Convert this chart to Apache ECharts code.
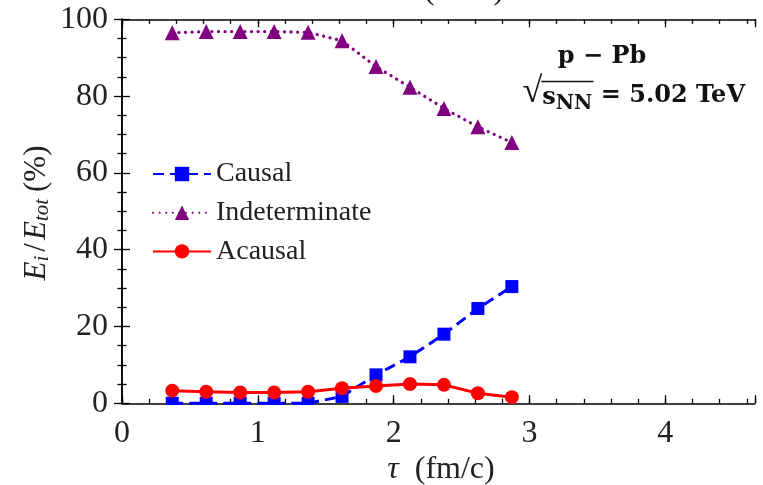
<!DOCTYPE html>
<html>
<head>
<meta charset="utf-8">
<script src="https://cdn.jsdelivr.net/npm/echarts@6/dist/echarts.min.js"></script>
<style>html,body{margin:0;padding:0;background:#fff;}#c{width:763px;height:485px;}</style>
</head>
<body>
<div id="c"></div>
<script>
const tau = [0.37, 0.62, 0.87, 1.12, 1.37, 1.62, 1.87, 2.12, 2.37, 2.62, 2.87];
const causal = [0, 0, 0, 0, 0, 1.8, 7.4, 12.1, 18.0, 24.7, 30.4];
const indeterminate = [96.5, 96.8, 96.8, 96.8, 96.6, 94.4, 87.7, 82.3, 76.8, 72.0, 67.9];
const acausal = [3.3, 3.0, 2.8, 2.8, 3.0, 3.9, 4.5, 5.0, 4.8, 2.6, 1.6];
const seriesNames = ['Causal', 'Indeterminate', 'Acausal'];
const xTicks = [0, 1, 2, 3, 4];
const yTicks = [0, 20, 40, 60, 80, 100];

const FONT = 'Liberation Serif';
const BFONT = 'DejaVu Serif';
const pair = (xs, ys) => xs.map((x, i) => [x, ys[i]]);
const chart = echarts.init(document.getElementById('c'));

const mctx = document.createElement('canvas').getContext('2d');
function tw(text, font) { mctx.font = font; return mctx.measureText(text).width; }

function xAx(pos, major, labels) {
  return {
    type: 'value', position: pos, min: 0, max: 4.66, interval: major ? 1 : 0.2,
    axisLine: {show: major, lineStyle: {color: '#000', width: 1.5}},
    axisTick: {show: true, inside: true, length: major ? 8 : 4.5, lineStyle: {color: '#000', width: 1.3}},
    axisLabel: {show: labels, margin: 14, fontFamily: FONT, fontSize: 32, color: '#222',
      formatter: v => (xTicks.indexOf(v) >= 0 ? String(v) : '')},
    splitLine: {show: false}
  };
}
function yAx(pos, labels) {
  return {
    type: 'value', position: pos, min: 0, max: 100, interval: 20,
    axisLine: {show: true, lineStyle: {color: '#000', width: 1.5}},
    axisTick: {show: true, inside: true, length: 8, lineStyle: {color: '#000', width: 1.3}},
    minorTick: {show: true, splitNumber: 4, length: 4.5, lineStyle: {color: '#000', width: 1.3}},
    axisLabel: {show: labels, margin: 14, fontFamily: FONT, fontSize: 32, color: '#222',
      formatter: v => (yTicks.indexOf(v) >= 0 ? String(v) : '')},
    splitLine: {show: false}
  };
}

// annotation line 2 built from pieces, right-aligned at x=745 (top-aligned texts)
const annTop = 84;
const pieces = [
  {t: '√', fam: FONT, w: 'normal', s: 36, dy: -9},
  {t: 's', fam: BFONT, w: 'bold', s: 24, dy: 2},
  {t: 'NN', fam: BFONT, w: 'bold', s: 20, dy: 10},
  {t: ' = 5.02 TeV', fam: BFONT, w: 'bold', s: 24, dy: 0}
];
const widths = pieces.map(p => tw(p.t, p.w + ' ' + p.s + 'px "' + p.fam + '"'));
const total = widths.reduce((a, b) => a + b, 0);
let cx = 745 - total;
const annGraphics = [];
let overStart = 0, overEnd = 0;
pieces.forEach((p, i) => {
  if (i === 1) overStart = cx;
  annGraphics.push({type: 'text', z: 101, x: cx, y: annTop + p.dy,
    style: {text: p.t, fill: '#111', align: 'left', verticalAlign: 'top',
      fontFamily: p.fam, fontWeight: p.w, fontSize: p.s}});
  cx += widths[i];
  if (i === 2) overEnd = cx + 1;
});
annGraphics.push({type: 'line', z: 101, shape: {x1: overStart - 1, y1: 81.5, x2: overEnd, y2: 81.5},
  style: {stroke: '#111', lineWidth: 1.3}});

chart.setOption({
  animation: false,
  backgroundColor: '#fff',
  grid: {left: 122, right: 8, top: 19.3, bottom: 81.7},
  xAxis: [xAx('bottom', true, true), xAx('bottom', false, false), xAx('top', true, false), xAx('top', false, false)],
  yAxis: [yAx('left', true), yAx('right', false)],
  legend: {
    orient: 'vertical', left: 147, top: 155, itemWidth: 58, itemHeight: 18, itemGap: 10.7, itemTextGap: 11,
    data: seriesNames,
    textStyle: {fontFamily: FONT, fontSize: 28, color: '#222', lineHeight: 28}
  },
  series: [
    {name: seriesNames[0], type: 'line', data: pair(tau, causal), clip: false,
     symbol: 'rect', symbolSize: 13, itemStyle: {color: '#0000ff'},
     lineStyle: {color: '#0000ff', width: 3, type: [11, 6]}},
    {name: seriesNames[1], type: 'line', data: pair(tau, indeterminate), clip: false,
     symbol: 'triangle', symbolSize: 15, itemStyle: {color: '#800080'},
     lineStyle: {color: '#800080', width: 3.2, type: [0.1, 6.5], cap: 'round'}},
    {name: seriesNames[2], type: 'line', data: pair(tau, acausal), clip: false,
     symbol: 'circle', symbolSize: 14, itemStyle: {color: '#ff0000'},
     lineStyle: {color: '#ff0000', width: 3}}
  ],
  graphic: [
    {type: 'rect', z: 100, shape: {x: 116, y: 405, width: 645, height: 9}, style: {fill: '#fff'}, silent: true},
    {type: 'text', z: 101, x: 37, y: 213, rotation: Math.PI / 2,
     style: {text: '{i|E}{s|i}{n|/}{i|E}{s|tot}{p|(%)}', align: 'center', verticalAlign: 'middle',
       rich: {
         i: {fontFamily: FONT, fontStyle: 'italic', fontSize: 31, fill: '#222'},
         n: {fontFamily: FONT, fontSize: 31, fill: '#222', padding: [0, 3, 0, 0]},
         p: {fontFamily: FONT, fontSize: 31, fill: '#222', padding: [0, 0, 0, 3]},
         s: {fontFamily: FONT, fontStyle: 'italic', fontSize: 21, fill: '#222', padding: [11, 4, 0, 0]}
       }}},
    {type: 'text', z: 101, x: 441, y: 470,
     style: {text: '{i|τ}{n|  (fm/c)}', align: 'center', verticalAlign: 'middle',
       rich: {
         i: {fontFamily: FONT, fontStyle: 'italic', fontSize: 32, fill: '#222'},
         n: {fontFamily: FONT, fontSize: 32, fill: '#222'}
       }}},
    {type: 'text', z: 101, x: 424, y: -25,
     style: {text: '(fm/c)', fontFamily: FONT, fontSize: 32, fill: '#222', align: 'left', verticalAlign: 'top'}},
    {type: 'text', z: 101, x: 602, y: 45,
     style: {text: 'p − Pb', fontFamily: BFONT, fontWeight: 'bold', fontSize: 24, fill: '#111', align: 'center', verticalAlign: 'top'}}
  ].concat(annGraphics)
});
</script>
</body>
</html>
